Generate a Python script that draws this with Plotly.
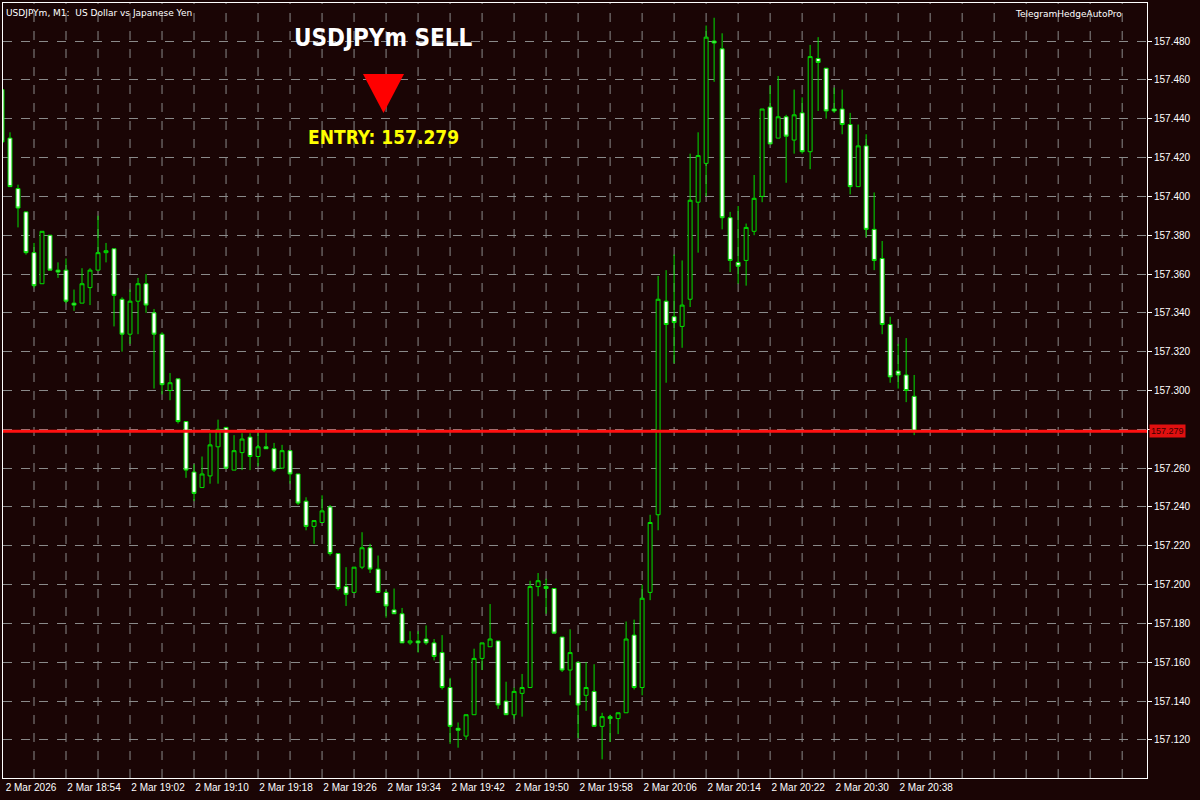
import plotly.graph_objects as go

opens = [157.455,157.430,157.404,157.392,157.371,157.355,157.380,157.362,157.362,157.345,
157.345,157.353,157.362,157.371,157.373,157.347,157.329,157.346,157.355,157.340,
157.329,157.300,157.306,157.284,157.258,157.250,157.256,157.271,157.281,157.259,
157.268,157.276,157.266,157.271,157.270,157.260,157.269,157.257,157.243,157.230,
157.232,157.240,157.216,157.199,157.196,157.209,157.219,157.208,157.196,157.187,
157.185,157.170,157.171,157.172,157.170,157.165,157.147,157.126,157.122,157.133,
157.162,157.168,157.171,157.140,157.133,157.144,157.147,157.199,157.199,157.198,
157.173,157.156,157.160,157.143,157.145,157.127,157.132,157.131,157.134,157.174,
157.147,157.196,157.236,157.346,157.338,157.333,157.347,157.397,157.417,157.480,
157.476,157.389,157.366,157.367,157.382,157.400,157.446,157.430,157.441,157.429,
157.443,157.423,157.471,157.466,157.445,157.445,157.437,157.405,157.426,157.383,
157.368,157.334,157.310,157.308,157.297]
highs = [157.456,157.433,157.406,157.392,157.376,157.382,157.380,157.366,157.368,157.352,
157.363,157.363,157.390,157.376,157.373,157.348,157.352,157.358,157.360,157.342,
157.330,157.309,157.306,157.284,157.262,157.266,157.278,157.285,157.281,157.277,
157.278,157.278,157.278,157.278,157.273,157.272,157.269,157.257,157.245,157.233,
157.246,157.241,157.216,157.209,157.209,157.227,157.221,157.215,157.197,157.198,
157.188,157.176,157.176,157.179,157.172,157.174,157.152,157.129,157.133,157.167,
157.170,157.190,157.171,157.150,157.147,157.154,157.202,157.206,157.203,157.198,
157.173,157.177,157.160,157.160,157.159,157.134,157.133,157.134,157.181,157.182,
157.200,157.236,157.359,157.362,157.370,157.367,157.422,157.433,157.488,157.492,
157.484,157.392,157.395,157.386,157.411,157.445,157.457,157.462,157.442,157.455,
157.451,157.478,157.482,157.466,157.456,157.455,157.443,157.437,157.432,157.402,
157.377,157.338,157.324,157.327,157.308]
lows = [157.428,157.405,157.384,157.370,157.353,157.355,157.362,157.358,157.345,157.341,
157.345,157.344,157.362,157.366,157.333,157.320,157.324,157.329,157.340,157.301,
157.298,157.295,157.283,157.255,157.243,157.250,157.252,157.252,157.260,157.259,
157.259,157.259,157.261,157.270,157.258,157.260,157.252,157.241,157.228,157.221,
157.232,157.215,157.197,157.189,157.196,157.208,157.206,157.196,157.183,157.185,
157.170,157.169,157.165,157.169,157.161,157.146,157.118,157.116,157.120,157.133,
157.156,157.168,157.136,157.133,157.131,157.132,157.147,157.194,157.185,157.175,
157.155,157.143,157.121,157.135,157.127,157.110,157.119,157.123,157.134,157.146,
157.143,157.192,157.228,157.304,157.314,157.322,157.343,157.371,157.400,157.459,
157.383,157.361,157.355,157.354,157.380,157.397,157.427,157.430,157.407,157.422,
157.422,157.414,157.444,157.440,157.443,157.432,157.401,157.405,157.379,157.362,
157.329,157.304,157.301,157.294,157.277]
closes = [157.428,157.405,157.394,157.371,157.354,157.382,157.362,157.361,157.346,157.344,
157.355,157.362,157.371,157.372,157.349,157.329,157.346,157.355,157.344,157.329,
157.303,157.304,157.284,157.259,157.247,157.257,157.272,157.280,157.260,157.269,
157.275,157.266,157.271,157.270,157.259,157.269,157.257,157.242,157.230,157.233,
157.238,157.216,157.198,157.195,157.209,157.219,157.208,157.196,157.189,157.185,
157.170,157.171,157.170,157.170,157.163,157.147,157.127,157.125,157.133,157.162,
157.170,157.172,157.138,157.133,157.145,157.147,157.199,157.202,157.198,157.175,
157.156,157.165,157.138,157.147,157.127,157.132,157.131,157.134,157.172,157.147,
157.193,157.232,157.347,157.334,157.335,157.344,157.398,157.421,157.482,157.479,
157.389,157.367,157.364,157.384,157.399,157.445,157.427,157.441,157.431,157.442,
157.423,157.472,157.469,157.444,157.444,157.437,157.405,157.426,157.383,157.367,
157.334,157.307,157.308,157.300,157.279]

time_labels = ["2 Mar 2026","2 Mar 18:54","2 Mar 19:02","2 Mar 19:10","2 Mar 19:18",
"2 Mar 19:26","2 Mar 19:34","2 Mar 19:42","2 Mar 19:50","2 Mar 19:58","2 Mar 20:06",
"2 Mar 20:14","2 Mar 20:22","2 Mar 20:30","2 Mar 20:38"]
price_ticks = [157.120,157.140,157.160,157.180,157.200,157.220,157.240,157.260,157.280,
157.300,157.320,157.340,157.360,157.380,157.400,157.420,157.440,157.460,157.480]
entry_price = 157.279

idx = list(range(len(opens)))
BG = "#1a0505"
GRID = "#8a8a8a"
TITLE_FONT = "DejaVu Sans Condensed, Roboto Condensed, Liberation Sans Narrow, DejaVu Sans"

fig = go.Figure()
fig.add_trace(go.Candlestick(
    x=idx, open=opens, high=highs, low=lows, close=closes,
    increasing=dict(line=dict(color="#00e000", width=1), fillcolor=BG),
    decreasing=dict(line=dict(color="#00e000", width=1), fillcolor="#ffffff"),
    whiskerwidth=0, showlegend=False, hoverinfo="skip"))

fig.add_hline(y=entry_price, line=dict(color="#ff1010", width=3))

for k in range(4, 144, 4):
    fig.add_vline(x=k, line=dict(color=GRID, width=1, dash="dash"), layer="below")

x_ticks = [0.125] + [8 * i for i in range(1, len(time_labels))]
y_text = ["" if abs(p - 157.28) < 1e-9 else f"{p:.3f}" for p in price_ticks]

fig.update_layout(
    width=1200, height=800, paper_bgcolor=BG, plot_bgcolor=BG,
    margin=dict(l=3, r=53, t=3, b=22, autoexpand=False),
    font=dict(family="Liberation Sans", color="white", size=10),
    xaxis=dict(range=[0.125, 143.1], rangeslider=dict(visible=False), automargin=False,
               tickvals=x_ticks, ticktext=time_labels,
               showgrid=False, zeroline=False, ticks="", ticklabelshift=28,
               tickfont=dict(size=10, color="white"),
               showline=True, linecolor="white", mirror=True, linewidth=1),
    yaxis=dict(range=[157.1004, 157.4996], side="right", tickvals=price_ticks, ticktext=y_text,
               automargin=False, showgrid=True, gridcolor=GRID, griddash="dash",
               gridwidth=1, zeroline=False, ticks="outside", ticklen=4, tickcolor="white",
               tickfont=dict(size=10, color="white"),
               showline=True, linecolor="white", mirror=True, linewidth=1),
)

def px(x): return (x - 3) / 1144
def py(y): return 1 - (y - 3) / 775

fig.add_shape(type="path", xref="paper", yref="paper",
              path=f"M {px(363)} {py(74)} L {px(404)} {py(74)} L {px(383.5)} {py(113)} Z",
              fillcolor="#ff0000", line=dict(width=0))

fig.add_annotation(xref="paper", yref="paper", x=px(383), y=py(38), xanchor="center", yanchor="middle",
                   text="<b>USDJPYm SELL</b>",
                   showarrow=False, font=dict(family=TITLE_FONT, size=24, color="white"))
fig.add_annotation(xref="paper", yref="paper", x=px(383), y=py(137), xanchor="center", yanchor="middle",
                   text="<b>ENTRY: 157.279</b>",
                   showarrow=False, font=dict(family=TITLE_FONT, size=19, color="#ffff00"))
fig.add_annotation(xref="paper", yref="paper", x=px(4), y=py(13), xanchor="left", yanchor="middle",
                   text="USDJPYm, M1:  US Dollar vs Japanese Yen", showarrow=False,
                   font=dict(family="DejaVu Sans", size=9, color="white"))
fig.add_annotation(xref="paper", yref="paper", x=px(1124), y=py(14), xanchor="right", yanchor="middle",
                   text="TelegramHedgeAutoPro", showarrow=False,
                   font=dict(family="DejaVu Sans", size=9, color="white"))
fig.add_annotation(xref="paper", yref="y", x=1.0, y=entry_price, xanchor="left", xshift=2,
                   text="157.279", showarrow=False, bgcolor="#e01010", borderpad=1,
                   font=dict(size=9, color="#3a0000"))

fig.write_html("out.html", config={"displayModeBar": False},
               post_script="document.body.style.margin='0';document.body.style.overflow='hidden';")
